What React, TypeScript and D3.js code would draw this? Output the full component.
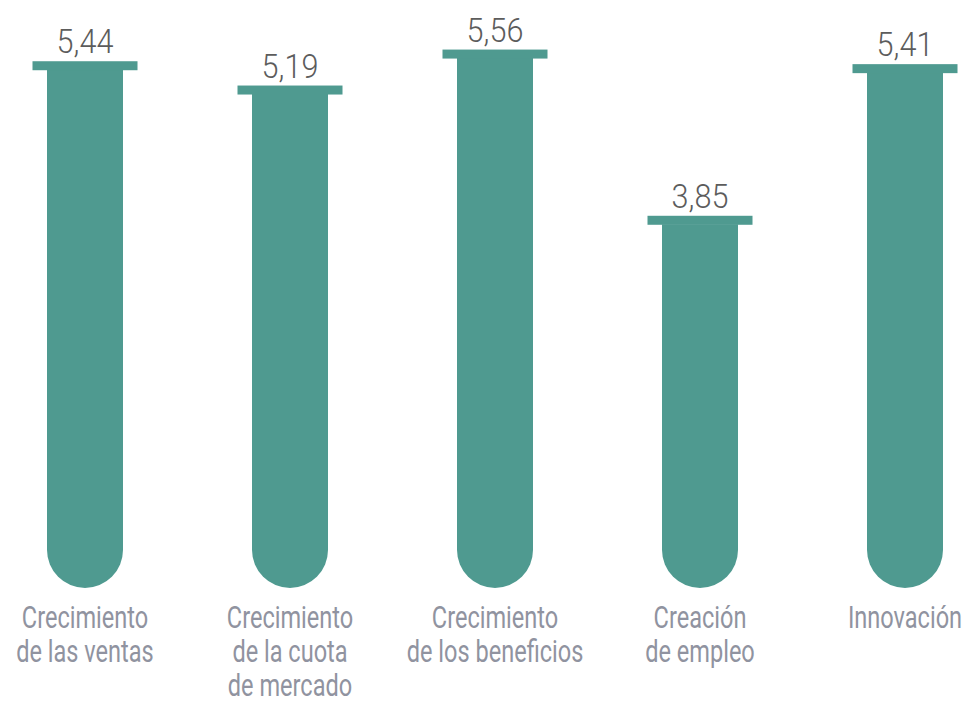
import React from "react";
import * as d3 from "d3";

const categories: string[][] = [
  ["Crecimiento", "de las ventas"],
  ["Crecimiento", "de la cuota", "de mercado"],
  ["Crecimiento", "de los beneficios"],
  ["Creación", "de empleo"],
  ["Innovación"],
];
const values: number[] = [5.44, 5.19, 5.56, 3.85, 5.41];
const valueLabels: string[] = ["5,44", "5,19", "5,56", "3,85", "5,41"];

const W = 968;
const H = 704;
const TEAL = "#4f9a90";

export default function App() {
  const x = d3
    .scaleBand<number>()
    .domain(values.map((_, i) => i))
    .range([-17.5, 1007.5])
    .paddingInner(0)
    .paddingOuter(0);
  const y = d3.scaleLinear().domain([0, 6]).range([590, 590 - 6 * 97.2]);

  const bodyW = 76;
  const capW = 105;
  const capH = 9;
  const r = bodyW / 2;
  const bottom = y(0) - 2;

  return (
    <svg
      width={W}
      height={H}
      style={{ position: "absolute", left: 0, top: 0, background: "#fff" }}
    >
      {values.map((v, i) => {
        const cx = (x(i) as number) + x.bandwidth() / 2;
        const top = y(v);
        const x0 = cx - bodyW / 2;
        const x1 = cx + bodyW / 2;
        const p = d3.path();
        p.moveTo(x0, top + capH - 0.5);
        p.lineTo(x0, bottom - r);
        p.arc(cx, bottom - r, r, Math.PI, 0, true);
        p.lineTo(x1, top + capH - 0.5);
        p.closePath();
        return (
          <g key={i}>
            <path d={p.toString()} fill={TEAL} />
            <rect x={cx - capW / 2} y={top} width={capW} height={capH} fill={TEAL} />
            <text
              transform={`translate(${cx},${top - 8}) scale(0.9,1)`}
              textAnchor="middle"
              fontFamily="Roboto"
              fontWeight={300}
              fontSize={34}
              fill="#5c5c5c"
            >
              {valueLabels[i]}
            </text>
            {categories[i].map((line, j) => (
              <text
                key={j}
                transform={`translate(${cx},${628 + j * 34}) scale(0.76,1)`}
                textAnchor="middle"
                fontFamily="Roboto"
                fontWeight={400}
                fontSize={31}
                fill="#9093a0"
              >
                {line}
              </text>
            ))}
          </g>
        );
      })}
    </svg>
  );
}
